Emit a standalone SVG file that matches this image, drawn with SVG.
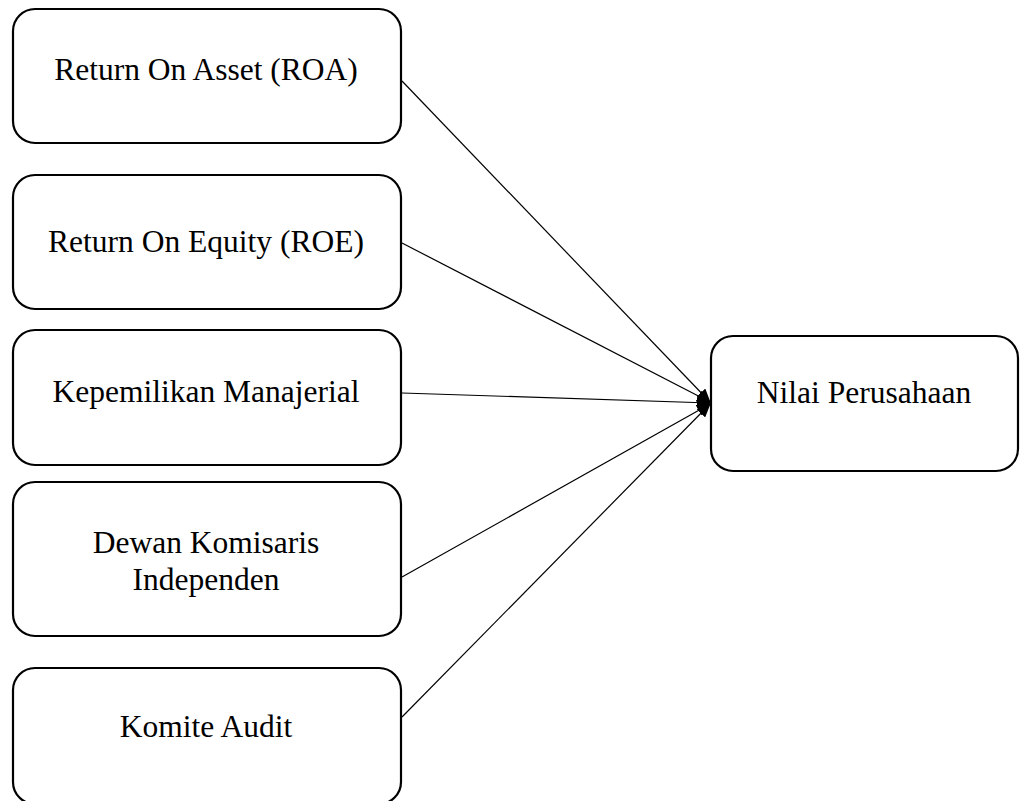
<svg xmlns="http://www.w3.org/2000/svg" width="1023" height="801" viewBox="0 0 1023 801">
<style>
.box{fill:#fff;stroke:#000;stroke-width:2.2}
.t{font-family:"Liberation Serif","Times New Roman",serif;font-size:31.5px;fill:#000;text-anchor:middle}
.c{stroke:#000;stroke-width:1.2;fill:none}
</style>
<defs>
<marker id="ah" markerWidth="14" markerHeight="12" refX="13" refY="6" orient="auto" markerUnits="userSpaceOnUse">
<path d="M0,0 L14,6 L0,12 Z" fill="#000"/>
</marker>
</defs>
<rect width="1023" height="801" fill="#fff"/>
<g id="connectors">
<line class="c" x1="402" y1="81" x2="710" y2="402" marker-end="url(#ah)"/>
<line class="c" x1="402" y1="243" x2="710" y2="402" marker-end="url(#ah)"/>
<line class="c" x1="402" y1="393" x2="710" y2="403" marker-end="url(#ah)"/>
<line class="c" x1="402" y1="577" x2="710" y2="404" marker-end="url(#ah)"/>
<line class="c" x1="402" y1="717" x2="710" y2="404" marker-end="url(#ah)"/>
</g>
<g id="roa">
<rect class="box" x="13" y="9" width="388" height="134" rx="22"/>
<text class="t" x="206" y="80">Return On Asset (ROA)</text>
</g>
<g id="roe">
<rect class="box" x="13" y="175" width="388" height="134" rx="22"/>
<text class="t" x="206" y="252">Return On Equity (ROE)</text>
</g>
<g id="km">
<rect class="box" x="13" y="330" width="388" height="135" rx="22"/>
<text class="t" x="206" y="402">Kepemilikan Manajerial</text>
</g>
<g id="dki">
<rect class="box" x="13" y="482" width="388" height="154" rx="22"/>
<text class="t" x="206" y="553">Dewan Komisaris</text>
<text class="t" x="206" y="590">Independen</text>
</g>
<g id="ka">
<rect class="box" x="13" y="668" width="388" height="136" rx="22"/>
<text class="t" x="206" y="737">Komite Audit</text>
</g>
<g id="nilai">
<rect class="box" x="711" y="336" width="307" height="135" rx="22"/>
<text class="t" x="864" y="403">Nilai Perusahaan</text>
</g>
</svg>
